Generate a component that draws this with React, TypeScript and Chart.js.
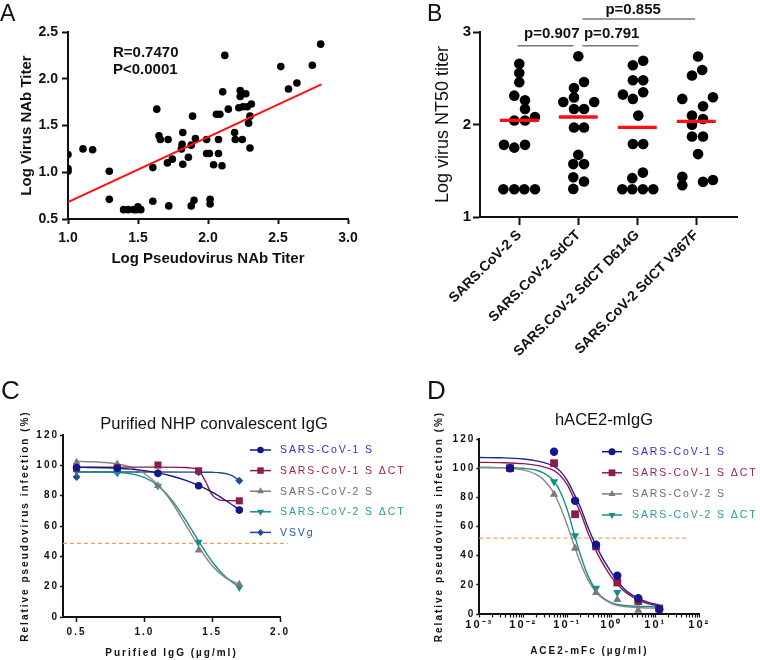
import React, { useEffect, useRef } from 'react';
import { Chart, registerables } from 'chart.js';

Chart.register(...registerables);

const FONT = "'Liberation Sans', Arial, Helvetica, sans-serif";

// ---------------- Panel A data ----------------
const aPseudoTiter = [1.0, 1.0, 1.0, 1.107, 1.176, 1.295, 1.295, 1.397, 1.43, 1.47, 1.49, 1.5, 1.52, 1.606, 1.606, 1.634, 1.65, 1.66, 1.715, 1.71, 1.745, 1.72, 1.82, 1.815, 1.81, 1.82, 1.86, 1.88, 1.89, 1.9, 1.88, 1.91, 1.99, 1.99, 2.01, 2.015, 2.015, 2.04, 2.06, 2.085, 2.075, 2.075, 2.1, 2.105, 2.12, 2.145, 2.19, 2.195, 2.23, 2.23, 2.22, 2.245, 2.25, 2.27, 2.28, 2.29, 2.3, 2.31, 2.3, 2.52, 2.575, 2.635, 2.745, 2.805];
const aVirusTiter = [1.19, 1.04, 1.01, 1.25, 1.24, 1.01, 0.71, 0.6, 0.6, 0.6, 0.6, 0.63, 0.6, 1.05, 0.69, 1.675, 1.39, 1.35, 1.35, 1.1, 1.14, 0.64, 1.425, 1.3, 1.25, 1.085, 1.16, 1.29, 1.6, 0.7, 0.64, 1.36, 1.35, 1.2, 1.2, 0.71, 0.66, 1.08, 1.62, 1.62, 1.35, 1.2, 1.07, 1.86, 2.25, 1.675, 1.425, 1.35, 1.875, 1.81, 1.69, 1.35, 1.7, 1.84, 1.7, 1.525, 1.6, 1.73, 1.26, 2.13, 1.89, 1.955, 2.145, 2.37];
const aFitX = [1.0, 2.81];
const aFitY = [0.68, 1.94];
const aXTicks = [1.0, 1.5, 2.0, 2.5, 3.0];
const aYTicks = [0.5, 1.0, 1.5, 2.0, 2.5];

// ---------------- Panel B data ----------------
const bGroups = ['SARS.CoV-2 S', 'SARS.CoV-2 SdCT', 'SARS.CoV-2 SdCT D614G', 'SARS.CoV-2 SdCT V367F'];
const bS = [2.656, 2.556, 2.456, 2.312, 2.261, 2.168, 2.081, 2.044, 2.044, 1.78, 1.75, 1.78, 1.3, 1.3, 1.3, 1.3];
const bSJitter = [0, 0, 0, -0.085, 0.097, 0.097, 0.266, -0.085, 0.097, -0.26, -0.085, 0.097, -0.27, -0.085, 0.085, 0.266];
const bSdCT = [2.738, 2.46, 2.395, 2.293, 2.243, 2.243, 2.168, 2.168, 1.968, 1.968, 1.672, 1.572, 1.572, 1.43, 1.383, 1.304];
const bSdCTJitter = [0, 0.097, -0.073, -0.073, -0.254, 0.27, -0.073, 0.097, -0.073, 0.097, 0, -0.085, 0.097, -0.085, 0.097, -0.085];
const bD614G = [2.69, 2.64, 2.478, 2.478, 2.348, 2.323, 2.277, 2.096, 1.789, 1.789, 1.48, 1.42, 1.3, 1.3, 1.3, 1.3];
const bD614GJitter = [0.1, -0.075, -0.075, 0.1, 0.1, -0.244, -0.075, 0.017, -0.075, 0.1, 0.095, -0.085, -0.254, -0.085, 0.095, 0.271];
const bV367F = [2.735, 2.59, 2.53, 2.295, 2.277, 2.197, 2.096, 2.06, 1.998, 1.87, 1.87, 1.68, 1.434, 1.4, 1.38, 1.344];
const bV367FJitter = [0.03, 0.1, -0.073, 0.283, -0.237, 0.114, -0.073, 0.114, -0.073, -0.073, 0.114, 0.03, -0.237, 0.283, 0.114, -0.237];
const bMedians = [2.044, 2.081, 1.968, 2.034];
const bYTicks = [1, 2, 3];
const bBracketFrom = [-0.03, 1.07, 1.07];
const bBracketTo = [0.92, 2.02, 2.98];
const bBracketY = [2.851, 2.851, 3.14];
const bBracketLabels = ['p=0.907', 'p=0.791', 'p=0.855'];
const bBracketLabelX = [0.55, 1.566, 1.93];
const bBracketLabelY = [2.93, 2.93, 3.2];

// ---------------- Panel C data ----------------
const cSeries = ['SARS-CoV-1 S', 'SARS-CoV-1 S \u0394CT', 'SARS-CoV-2 S', 'SARS-CoV-2 S \u0394CT', 'VSVg'];
const cIgG = [0.5, 0.8, 1.1, 1.4, 1.7];
const cCov1S = [98.6, 98.1, 94.7, 86.5, 70.5];
const cCov1SdCT = [98.0, 98.4, 100.2, 96.4, 76.6];
const cCov2S = [102.0, 100.8, 86.5, 44.0, 21.6];
const cCov2SdCT = [95.8, 95.0, 86.3, 49.5, 19.4];
const cVSVg = [92.3, 95.5, 95.0, 95.5, 89.8];
const cCurveX = [0.5, 0.6, 0.7, 0.8, 0.9, 1.0, 1.1, 1.2, 1.3, 1.4, 1.5, 1.6, 1.7];
const cCov1SCurve = [98.7, 98.6, 98.4, 98.1, 97.5, 96.5, 95.0, 93.0, 90.3, 86.8, 82.3, 76.8, 70.8];
const cCov2SCurve = [102.6, 102.4, 101.9, 100.9, 98.8, 94.6, 87.2, 76.0, 61.5, 46.5, 33.8, 25.8, 21.6];
const cCov2SdCTCurve = [95.9, 95.8, 95.6, 95.3, 94.4, 92.0, 86.6, 77.4, 64.5, 50.0, 36.4, 26.3, 19.7];
const cCov1SdCTCurveX = [0.5, 0.8, 1.1, 1.3, 1.35, 1.4, 1.45, 1.5, 1.55, 1.6, 1.7];
const cCov1SdCTCurve = [98.8, 98.8, 98.8, 98.6, 98.2, 96.8, 89.5, 80.5, 77.2, 76.7, 76.6];
const cVSVgCurveX = [0.5, 0.8, 1.1, 1.4, 1.5, 1.55, 1.6, 1.65, 1.7];
const cVSVgCurve = [95.6, 95.6, 95.6, 95.5, 95.4, 95.2, 94.6, 93.0, 89.8];
const cHalfLineX = [0.4, 2.06];
const cHalfLineY = [48.5, 48.5];
const cXTicks = [0.5, 1.0, 1.5, 2.0];
const cYTicks = [0, 20, 40, 60, 80, 100, 120];

// ---------------- Panel D data ----------------
const dSeries = ['SARS-CoV-1 S', 'SARS-CoV-1 S \u0394CT', 'SARS-CoV-2 S', 'SARS-CoV-2 S \u0394CT'];
const dConc = [0.005, 0.05, 0.15, 0.45, 1.37, 4.1, 12.3];
const dCov1S = [100, 111.3, 77.6, 47.5, 26.2, 10.8, 3.3];
const dCov1SdCT = [100, 103.4, 68.4, 46.4, 21.6, 8.9, 3.8];
const dCov2S = [100, 82.0, 45.1, 14.6, 9.8, 2.5, 3.0];
const dCov2SdCT = [100, 90.8, 53.8, 17.7, 14.8, 8.2, 4.0];
const dCurveX = [0.001, 0.003, 0.01, 0.02, 0.03, 0.05, 0.07, 0.1, 0.15, 0.2, 0.3, 0.5, 1, 2, 5, 12.3];
const dCov1SCurve = [107.3, 107.1, 106.3, 105.0, 103.8, 101.3, 97.8, 91.5, 81.0, 73.0, 59.0, 44.0, 28.5, 17.0, 9.5, 6.0];
const dCov1SdCTCurve = [104.0, 103.8, 103.1, 101.9, 100.7, 98.3, 94.8, 88.5, 77.5, 69.5, 55.0, 40.5, 25.5, 15.5, 8.5, 5.3];
const dCov2SCurve = [100.5, 100.3, 98.8, 95.6, 91.6, 82.8, 73.2, 60.8, 45.3, 34.9, 23.1, 13.5, 7.3, 5.1, 4.3, 4.1];
const dCov2SdCTCurve = [100.5, 100.4, 99.9, 98.6, 96.5, 91.0, 83.5, 71.5, 52.8, 40.3, 25.8, 14.3, 7.8, 5.8, 5.2, 5.1];
const dHalfLineX = [0.001, 59];
const dHalfLineY = [52, 52];
const dDecades = [0.001, 0.01, 0.1, 1, 10, 100];
const dDecadeLabels = ['10\u207B\u00B3', '10\u207B\u00B2', '10\u207B\u00B9', '10\u2070', '10\u00B9', '10\u00B2'];
const dYTicks = [0, 20, 40, 60, 80, 100, 120];

// ---------------- styles ----------------
const NAVY = '#16168c';
const NAVY_TXT = '#3030cc';
const MAROON = '#8c1c4c';
const MAROON_TXT = '#9a2052';
const GRAY = '#7a7a7a';
const GRAY_TXT = '#6c6c6c';
const TEAL = '#168f8c';
const TEAL_TXT = '#2a9c98';
const VSV = '#1f4d95';
const VSV_TXT = '#2452a0';
const ORANGE = '#f4a15e';

const pts = (xs: number[], ys: number[]) => xs.map((x, i) => ({ x, y: ys[i] }));

type TextItem = { text: string; x: number; y: number; size: number; weight?: string; align?: CanvasTextAlign; color?: string; spacing?: number };

function textPlugin(id: string, items: TextItem[]) {
  return {
    id,
    afterDraw(chart: any) {
      const ctx = chart.ctx;
      items.forEach((t) => {
        ctx.save();
        ctx.font = `${t.weight || 'normal'} ${t.size}px ${FONT}`;
        ctx.fillStyle = t.color || '#111';
        ctx.textAlign = t.align || 'left';
        ctx.textBaseline = 'alphabetic';
        ctx.letterSpacing = `${t.spacing || 0}px`;
        ctx.fillText(t.text, t.x, t.y);
        ctx.restore();
      });
    },
  };
}

function spacingPlugin(px: number) {
  const set = (chart: any) => {
    chart.ctx.letterSpacing = `${px}px`;
  };
  return { id: 'letterSpacing', beforeUpdate: set, beforeLayout: set, beforeDraw: set, beforeDatasetsDraw: set };
}

function drawMarker(ctx: CanvasRenderingContext2D, style: string, x: number, y: number, r: number) {
  ctx.beginPath();
  if (style === 'circle') {
    ctx.arc(x, y, r, 0, Math.PI * 2);
  } else if (style === 'rect') {
    const s = r * Math.SQRT1_2;
    ctx.rect(x - s, y - s, 2 * s, 2 * s);
  } else if (style === 'triangle' || style === 'triangleDown') {
    const sgn = style === 'triangle' ? 1 : -1;
    for (let k = 0; k < 3; k++) {
      const a = (k * 2 * Math.PI) / 3;
      const px = x + Math.sin(a) * r;
      const py = y - sgn * Math.cos(a) * r;
      if (k === 0) ctx.moveTo(px, py);
      else ctx.lineTo(px, py);
    }
    ctx.closePath();
  } else if (style === 'rectRot') {
    ctx.moveTo(x, y - r);
    ctx.lineTo(x + r, y);
    ctx.lineTo(x, y + r);
    ctx.lineTo(x - r, y);
    ctx.closePath();
  }
  ctx.fill();
}

type LegendItem = { label: string; color: string; textColor: string; style: string; r: number };

function legendPlugin(items: LegendItem[], x0: number, y0: number, rowH: number, lineLen: number, gap: number, size: number, spacing: number) {
  return {
    id: 'customLegend',
    afterDraw(chart: any) {
      const ctx = chart.ctx as CanvasRenderingContext2D;
      items.forEach((it, i) => {
        const y = y0 + i * rowH;
        ctx.save();
        ctx.strokeStyle = it.color;
        ctx.fillStyle = it.color;
        ctx.lineWidth = 1.5;
        ctx.beginPath();
        ctx.moveTo(x0, y);
        ctx.lineTo(x0 + lineLen, y);
        ctx.stroke();
        drawMarker(ctx, it.style, x0 + lineLen / 2, y, it.r);
        ctx.font = `normal ${size}px ${FONT}`;
        ctx.fillStyle = it.textColor;
        ctx.textAlign = 'left';
        ctx.textBaseline = 'middle';
        (ctx as any).letterSpacing = `${spacing}px`;
        ctx.fillText(it.label, x0 + lineLen + gap, y + 0.5);
        ctx.restore();
      });
    },
  };
}

const axisGrid = (tl: number, w: number) => ({ display: true, drawOnChartArea: false, drawTicks: true, tickLength: tl, tickColor: '#111', tickWidth: w });
const axisBorder = { display: true, color: '#111', width: 2 };
const font = (size: number, weight: string) => ({ family: FONT, size, weight });

// ---------------- Configs ----------------
function makeA(): any {
  return {
    type: 'scatter',
    data: {
      datasets: [
        { data: pts(aFitX, aFitY), showLine: true, borderColor: '#ff1010', borderWidth: 2, pointRadius: 0, order: 0 },
        { data: pts(aPseudoTiter, aVirusTiter), backgroundColor: '#000', borderColor: '#000', pointRadius: 3.8, pointBorderWidth: 0, clip: 0, order: 1 },
      ],
    },
    options: {
      animation: false,
      responsive: false,
      devicePixelRatio: 1,
      layout: { padding: { top: 32, right: 32, bottom: 0, left: 0 } },
      plugins: { legend: { display: false }, tooltip: { enabled: false } },
      scales: {
        x: {
          type: 'linear', min: 1, max: 3,
          afterBuildTicks: (s: any) => { s.ticks = aXTicks.map((v) => ({ value: v })); },
          afterFit: (s: any) => { s.height = 61; },
          ticks: { padding: 6, color: '#111', font: font(14, 'bold'), callback: (v: any) => Number(v).toFixed(1) },
          grid: axisGrid(5, 2), border: axisBorder,
          title: { display: true, text: 'Log Pseudovirus NAb Titer', color: '#111', font: font(15, 'bold'), padding: { top: 0, bottom: 12 } },
        },
        y: {
          type: 'linear', min: 0.5, max: 2.5,
          afterBuildTicks: (s: any) => { s.ticks = aYTicks.map((v) => ({ value: v })); },
          afterFit: (s: any) => { s.width = 68; },
          ticks: { padding: 4, color: '#111', font: font(14, 'bold'), callback: (v: any) => Number(v).toFixed(1) },
          grid: axisGrid(6, 2), border: axisBorder,
          title: { display: true, text: 'Log Virus NAb Titer', color: '#111', font: font(15, 'bold'), padding: { top: 18, bottom: 0 } },
        },
      },
    },
    plugins: [
      textPlugin('aTexts', [
        { text: 'A', x: 0, y: 21, size: 23 },
        { text: 'R=0.7470', x: 113, y: 57, size: 15, weight: 'bold' },
        { text: 'P<0.0001', x: 113, y: 74, size: 15, weight: 'bold' },
      ]),
    ],
  };
}

function makeB(): any {
  const groups = [bS, bSdCT, bD614G, bV367F];
  const jit = [bSJitter, bSdCTJitter, bD614GJitter, bV367FJitter];
  const dots: { x: number; y: number }[] = [];
  groups.forEach((g, gi) => g.forEach((v, i) => dots.push({ x: gi + jit[gi][i], y: v })));
  const medianSets = bMedians.map((m, gi) => ({
    data: [{ x: gi - 0.33, y: m }, { x: gi + 0.33, y: m }],
    showLine: true, borderColor: '#ff1010', borderWidth: 3.3, pointRadius: 0, order: 0,
  }));
  return {
    type: 'scatter',
    data: {
      datasets: [
        ...medianSets,
        { data: dots, backgroundColor: '#000', borderColor: '#000', pointRadius: 5.3, pointBorderWidth: 0, order: 1 },
      ],
    },
    options: {
      animation: false,
      responsive: false,
      devicePixelRatio: 1,
      layout: { padding: { top: 32, right: 23, bottom: 0, left: 0 } },
      plugins: { legend: { display: false }, tooltip: { enabled: false } },
      scales: {
        x: {
          type: 'linear', min: -0.666, max: 3.69,
          afterBuildTicks: (s: any) => { s.ticks = bGroups.map((_, i) => ({ value: i })); },
          afterFit: (s: any) => { s.height = 163; },
          ticks: { autoSkip: false, minRotation: 45, maxRotation: 45, padding: 2, color: '#111', font: font(14, 'bold'), callback: (v: any) => bGroups[Math.round(Number(v))] ?? '' },
          grid: axisGrid(8, 2), border: axisBorder,
        },
        y: {
          type: 'linear', min: 1, max: 3,
          afterBuildTicks: (s: any) => { s.ticks = bYTicks.map((v) => ({ value: v })); },
          afterFit: (s: any) => { s.width = 100; },
          ticks: { padding: 2, color: '#111', font: font(15, 'bold'), callback: (v: any) => String(v) },
          grid: axisGrid(7, 2), border: axisBorder,
          title: { display: true, text: 'Log virus NT50 titer', color: '#111', font: font(18, 'normal'), padding: { top: 52, bottom: 0 } },
        },
      },
    },
    plugins: [
      {
        id: 'brackets',
        afterDatasetsDraw(chart: any) {
          const { ctx, scales } = chart;
          const x = scales.x;
          const y = scales.y;
          ctx.save();
          bBracketFrom.forEach((f, i) => {
            const yy = y.getPixelForValue(bBracketY[i]);
            ctx.strokeStyle = '#777';
            ctx.lineWidth = 1.5;
            ctx.beginPath();
            ctx.moveTo(x.getPixelForValue(f), yy);
            ctx.lineTo(x.getPixelForValue(bBracketTo[i]), yy);
            ctx.stroke();
            ctx.font = `bold 15px ${FONT}`;
            ctx.fillStyle = '#111';
            ctx.textAlign = 'center';
            ctx.textBaseline = 'alphabetic';
            ctx.fillText(bBracketLabels[i], x.getPixelForValue(bBracketLabelX[i]), y.getPixelForValue(bBracketLabelY[i]));
          });
          ctx.restore();
        },
      },
      textPlugin('bTexts', [{ text: 'B', x: 47, y: 21, size: 23 }]),
    ],
  };
}

function curve(xs: number[], ys: number[], color: string): any {
  return { data: pts(xs, ys), showLine: true, borderColor: color, borderWidth: 1.4, pointRadius: 0, cubicInterpolationMode: 'monotone', order: 5 };
}
function marks(xs: number[], ys: number[], color: string, style: string, r: number, rotation = 0): any {
  return { data: pts(xs, ys), showLine: false, backgroundColor: color, borderColor: color, pointStyle: style, pointRadius: r, pointBorderWidth: 0, rotation, clip: false, order: 1 };
}

function makeC(): any {
  return {
    type: 'scatter',
    data: {
      datasets: [
        marks(cIgG, cCov1S, NAVY, 'circle', 3.8),
        marks(cIgG, cCov1SdCT, MAROON, 'rect', 5),
        marks(cIgG, cCov2S, GRAY, 'triangle', 4.5),
        marks(cIgG, cCov2SdCT, TEAL, 'triangle', 4.5, 180),
        marks(cIgG, cVSVg, VSV, 'rectRot', 4),
        curve(cCurveX, cCov1SCurve, NAVY),
        curve(cCov1SdCTCurveX, cCov1SdCTCurve, MAROON),
        curve(cCurveX, cCov2SCurve, '#858585'),
        curve(cCurveX, cCov2SdCTCurve, TEAL),
        curve(cVSVgCurveX, cVSVgCurve, VSV),
        { data: pts(cHalfLineX, cHalfLineY), showLine: true, borderColor: ORANGE, borderWidth: 1.2, borderDash: [4, 3], pointRadius: 0, clip: false, order: 9 },
      ],
    },
    options: {
      animation: false,
      responsive: false,
      devicePixelRatio: 1,
      layout: { padding: { top: 105, right: 140, bottom: 0, left: 0 } },
      plugins: { legend: { display: false }, tooltip: { enabled: false } },
      scales: {
        x: {
          type: 'linear', min: 0.4, max: 2.0,
          afterBuildTicks: (s: any) => { s.ticks = cXTicks.map((v) => ({ value: v })); },
          afterFit: (s: any) => { s.height = 43; },
          ticks: { padding: 4, color: '#111', font: font(10, 'bold'), callback: (v: any) => Number(v).toFixed(1) },
          grid: axisGrid(5, 1.5), border: axisBorder,
          title: { display: true, text: 'Purified IgG (\u00B5g/ml)', color: '#111', font: font(10, 'bold'), padding: { top: 0, bottom: 1 } },
        },
        y: {
          type: 'linear', min: 0, max: 120,
          afterBuildTicks: (s: any) => { s.ticks = cYTicks.map((v) => ({ value: v })); },
          afterFit: (s: any) => { s.width = 63; },
          ticks: { padding: 1, color: '#111', font: font(10, 'bold'), callback: (v: any) => String(v) },
          grid: axisGrid(3, 1.5), border: axisBorder,
          title: { display: true, text: 'Relative pseudovirus infection (%)', color: '#111', font: font(10, 'bold'), padding: { top: 19, bottom: 0 } },
        },
      },
    },
    plugins: [
      spacingPlugin(2),
      legendPlugin(
        [
          { label: cSeries[0], color: NAVY, textColor: NAVY_TXT, style: 'circle', r: 3.3 },
          { label: cSeries[1], color: MAROON, textColor: MAROON_TXT, style: 'rect', r: 4.6 },
          { label: cSeries[2], color: GRAY, textColor: GRAY_TXT, style: 'triangle', r: 4 },
          { label: cSeries[3], color: TEAL, textColor: TEAL_TXT, style: 'triangleDown', r: 4 },
          { label: cSeries[4], color: VSV, textColor: VSV_TXT, style: 'rectRot', r: 3.5 },
        ],
        250, 120, 20.6, 21, 9, 10.5, 1.9,
      ),
      textPlugin('cTexts', [
        { text: 'C', x: 1, y: 69, size: 26 },
        { text: 'Purified NHP convalescent IgG', x: 214, y: 99, size: 16.5, align: 'center' },
      ]),
    ],
  };
}

function makeD(): any {
  return {
    type: 'scatter',
    data: {
      datasets: [
        marks(dConc, dCov1S, NAVY, 'circle', 4.2),
        marks(dConc, dCov1SdCT, MAROON, 'rect', 5.5),
        marks(dConc, dCov2S, GRAY, 'triangle', 4.8),
        marks(dConc, dCov2SdCT, TEAL, 'triangle', 4.8, 180),
        curve(dCurveX, dCov1SCurve, '#2020a0'),
        curve(dCurveX, dCov1SdCTCurve, MAROON),
        curve(dCurveX, dCov2SCurve, '#858585'),
        curve(dCurveX, dCov2SdCTCurve, TEAL),
        { data: pts(dHalfLineX, dHalfLineY), showLine: true, borderColor: ORANGE, borderWidth: 1.2, borderDash: [4, 3], pointRadius: 0, clip: false, order: 9 },
      ],
    },
    options: {
      animation: false,
      responsive: false,
      devicePixelRatio: 1,
      layout: { padding: { top: 109, right: 60.7, bottom: 0, left: 0 } },
      plugins: { legend: { display: false }, tooltip: { enabled: false } },
      scales: {
        x: {
          type: 'logarithmic', min: 0.001, max: 100,
          afterBuildTicks: (s: any) => {
            const t: { value: number }[] = [];
            dDecades.forEach((d, i) => {
              if (i < dDecades.length - 1) {
                for (let m = 1; m < 10; m++) t.push({ value: m * d });
              } else t.push({ value: d });
            });
            s.ticks = t;
          },
          afterFit: (s: any) => { s.height = 46; },
          ticks: {
            autoSkip: false, minRotation: 0, maxRotation: 0, padding: 1, color: '#111', font: font(11, 'bold'),
            callback: (v: any) => {
              const i = dDecades.findIndex((d) => Math.abs(d - Number(v)) / d < 1e-6);
              return i >= 0 ? dDecadeLabels[i] : '';
            },
          },
          grid: axisGrid(3.5, 1.2), border: axisBorder,
          title: { display: true, text: 'ACE2-mFc (\u00B5g/ml)', color: '#111', font: font(10, 'bold'), padding: { top: 0, bottom: 3 } },
        },
        y: {
          type: 'linear', min: 0, max: 120,
          afterBuildTicks: (s: any) => { s.ticks = dYTicks.map((v) => ({ value: v })); },
          afterFit: (s: any) => { s.width = 69.3; },
          ticks: { padding: 1, color: '#111', font: font(10, 'bold'), callback: (v: any) => String(v) },
          grid: axisGrid(3, 1.5), border: axisBorder,
          title: { display: true, text: 'Relative pseudovirus infection (%)', color: '#111', font: font(10, 'bold'), padding: { top: 23, bottom: 0 } },
        },
      },
    },
    plugins: [
      spacingPlugin(2),
      legendPlugin(
        [
          { label: dSeries[0], color: NAVY, textColor: NAVY_TXT, style: 'circle', r: 3.5 },
          { label: dSeries[1], color: MAROON, textColor: MAROON_TXT, style: 'rect', r: 4.8 },
          { label: dSeries[2], color: GRAY, textColor: GRAY_TXT, style: 'triangle', r: 4 },
          { label: dSeries[3], color: TEAL, textColor: TEAL_TXT, style: 'triangleDown', r: 4 },
        ],
        192, 121.7, 21.1, 20, 10, 10.5, 1.9,
      ),
      textPlugin('dTexts', [
        { text: 'D', x: 17, y: 69, size: 26 },
        { text: 'hACE2-mIgG', x: 194, y: 95, size: 16.5, align: 'center' },
      ]),
    ],
  };
}

function ChartBox({ left, top, width, height, make }: { left: number; top: number; width: number; height: number; make: () => any }) {
  const ref = useRef<HTMLCanvasElement>(null);
  useEffect(() => {
    const chart = new Chart(ref.current as HTMLCanvasElement, make());
    return () => chart.destroy();
  }, []);
  return (
    <canvas
      ref={ref}
      width={width}
      height={height}
      style={{ position: 'absolute', left, top, width, height, display: 'block' }}
    />
  );
}

export default function App() {
  return (
    <div style={{ position: 'fixed', left: 0, top: 0, width: 760, height: 660, background: '#fff', overflow: 'hidden' }}>
      <ChartBox left={0} top={0} width={380} height={280} make={makeA} />
      <ChartBox left={0} top={330} width={420} height={330} make={makeC} />
      <ChartBox left={410} top={330} width={350} height={330} make={makeD} />
      <ChartBox left={380} top={0} width={380} height={380} make={makeB} />
    </div>
  );
}
